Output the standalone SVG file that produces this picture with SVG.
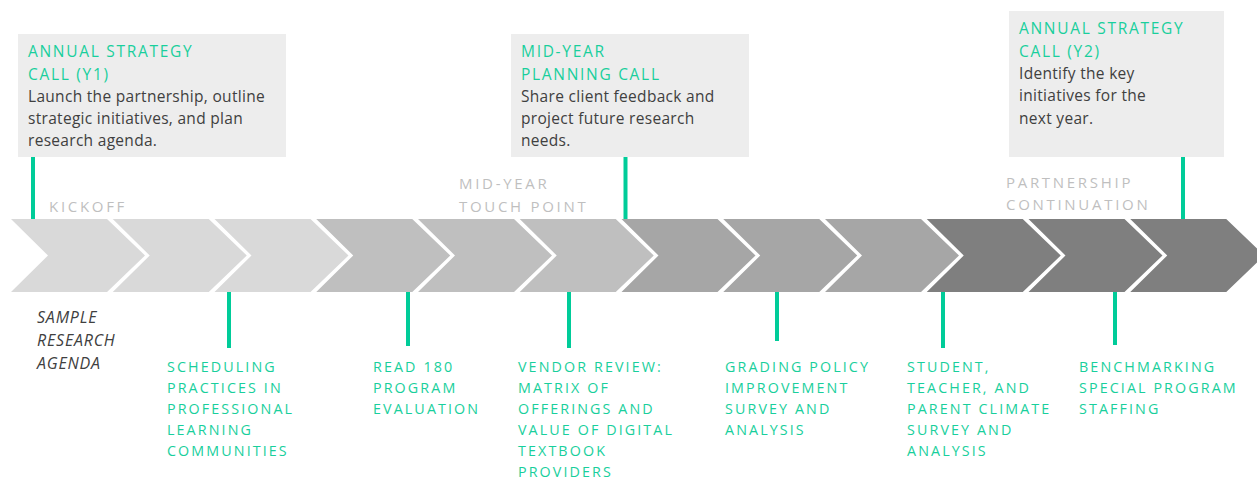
<svg xmlns="http://www.w3.org/2000/svg" width="1257" height="478" viewBox="0 0 1257 478">
<style>
.box{fill:#ededed}
.ttl{font-family:"Open Sans",sans-serif;font-size:15.5px;letter-spacing:1.7px;fill:#19cf9c}
.body{font-family:"Open Sans",sans-serif;font-size:15.5px;letter-spacing:0.3px;fill:#404040}
.phase{font-family:"Open Sans",sans-serif;font-size:15px;letter-spacing:2.7px;fill:#bfbfbf}
.lbl{font-family:"Open Sans",sans-serif;font-size:14.3px;letter-spacing:2.1px;fill:#19cf9c}
.it{font-family:"Open Sans",sans-serif;font-size:16px;letter-spacing:0.8px;font-style:italic;fill:#404040}
.c1{fill:#d9d9d9}.c2{fill:#bfbfbf}.c3{fill:#a6a6a6}.c4{fill:#7f7f7f}
.con line{stroke:#00cc99;stroke-width:4}
</style>
<defs>
<polygon id="chev" points="0,219 96,219 134,255.5 96,292 0,292 37,255.5"/>
</defs>
<g id="timeline">
<use href="#chev" class="c1" x="11"/>
<use href="#chev" class="c1" x="112.75"/>
<use href="#chev" class="c1" x="214.5"/>
<use href="#chev" class="c2" x="316.25"/>
<use href="#chev" class="c2" x="418"/>
<use href="#chev" class="c2" x="519.75"/>
<use href="#chev" class="c3" x="621.5"/>
<use href="#chev" class="c3" x="723.25"/>
<use href="#chev" class="c3" x="825"/>
<use href="#chev" class="c4" x="926.75"/>
<use href="#chev" class="c4" x="1028.5"/>
<use href="#chev" class="c4" x="1130.25"/>
</g>
<g id="connectors" class="con">
<line x1="33" y1="157" x2="33" y2="219"/>
<line x1="625.5" y1="157" x2="625.5" y2="219"/>
<line x1="1183" y1="157" x2="1183" y2="219"/>
<line x1="229" y1="292" x2="229" y2="348"/>
<line x1="408" y1="292" x2="408" y2="346"/>
<line x1="569" y1="292" x2="569" y2="348"/>
<line x1="777" y1="292" x2="777" y2="341"/>
<line x1="943" y1="292" x2="943" y2="348"/>
<line x1="1115" y1="292" x2="1115" y2="345"/>
</g>
<g id="call-y1">
<rect class="box" x="18" y="34" width="268" height="123"/>
<text class="ttl" x="28" y="57">ANNUAL STRATEGY</text>
<text class="ttl" x="28" y="80">CALL (Y1)</text>
<text class="body" x="28" y="102">Launch the partnership, outline</text>
<text class="body" x="28" y="124">strategic initiatives, and plan</text>
<text class="body" x="28" y="146">research agenda.</text>
</g>
<g id="call-mid">
<rect class="box" x="511" y="34" width="238" height="123"/>
<text class="ttl" x="521" y="57">MID-YEAR</text>
<text class="ttl" x="521" y="80">PLANNING CALL</text>
<text class="body" x="521" y="102">Share client feedback and</text>
<text class="body" x="521" y="124">project future research</text>
<text class="body" x="521" y="146">needs.</text>
</g>
<g id="call-y2">
<rect class="box" x="1009" y="11" width="215" height="146"/>
<text class="ttl" x="1019" y="34">ANNUAL STRATEGY</text>
<text class="ttl" x="1019" y="57">CALL (Y2)</text>
<text class="body" x="1019" y="79">Identify the key</text>
<text class="body" x="1019" y="101">initiatives for the</text>
<text class="body" x="1019" y="124">next year.</text>
</g>
<g id="phase-kickoff"><text class="phase" x="49" y="212">KICKOFF</text></g>
<g id="phase-mid"><text class="phase" x="459" y="189">MID-YEAR</text><text class="phase" x="459" y="212">TOUCH POINT</text></g>
<g id="phase-cont"><text class="phase" x="1006" y="188">PARTNERSHIP</text><text class="phase" x="1006" y="210">CONTINUATION</text></g>
<g id="sample"><text class="it" x="37" y="323">SAMPLE</text><text class="it" x="37" y="346">RESEARCH</text><text class="it" x="37" y="369">AGENDA</text></g>
<g id="item-scheduling">
<text class="lbl" x="167" y="372">SCHEDULING</text>
<text class="lbl" x="167" y="393">PRACTICES IN</text>
<text class="lbl" x="167" y="414">PROFESSIONAL</text>
<text class="lbl" x="167" y="435">LEARNING</text>
<text class="lbl" x="167" y="456">COMMUNITIES</text>
</g>
<g id="item-read180">
<text class="lbl" x="373" y="372">READ 180</text>
<text class="lbl" x="373" y="393">PROGRAM</text>
<text class="lbl" x="373" y="414">EVALUATION</text>
</g>
<g id="item-vendor">
<text class="lbl" x="518" y="372">VENDOR REVIEW:</text>
<text class="lbl" x="518" y="393">MATRIX OF</text>
<text class="lbl" x="518" y="414">OFFERINGS AND</text>
<text class="lbl" x="518" y="435">VALUE OF DIGITAL</text>
<text class="lbl" x="518" y="456">TEXTBOOK</text>
<text class="lbl" x="518" y="477">PROVIDERS</text>
</g>
<g id="item-grading">
<text class="lbl" x="725" y="372">GRADING POLICY</text>
<text class="lbl" x="725" y="393">IMPROVEMENT</text>
<text class="lbl" x="725" y="414">SURVEY AND</text>
<text class="lbl" x="725" y="435">ANALYSIS</text>
</g>
<g id="item-climate">
<text class="lbl" x="907" y="372">STUDENT,</text>
<text class="lbl" x="907" y="393">TEACHER, AND</text>
<text class="lbl" x="907" y="414">PARENT CLIMATE</text>
<text class="lbl" x="907" y="435">SURVEY AND</text>
<text class="lbl" x="907" y="456">ANALYSIS</text>
</g>
<g id="item-bench">
<text class="lbl" x="1079" y="372">BENCHMARKING</text>
<text class="lbl" x="1079" y="393">SPECIAL PROGRAM</text>
<text class="lbl" x="1079" y="414">STAFFING</text>
</g>
</svg>
